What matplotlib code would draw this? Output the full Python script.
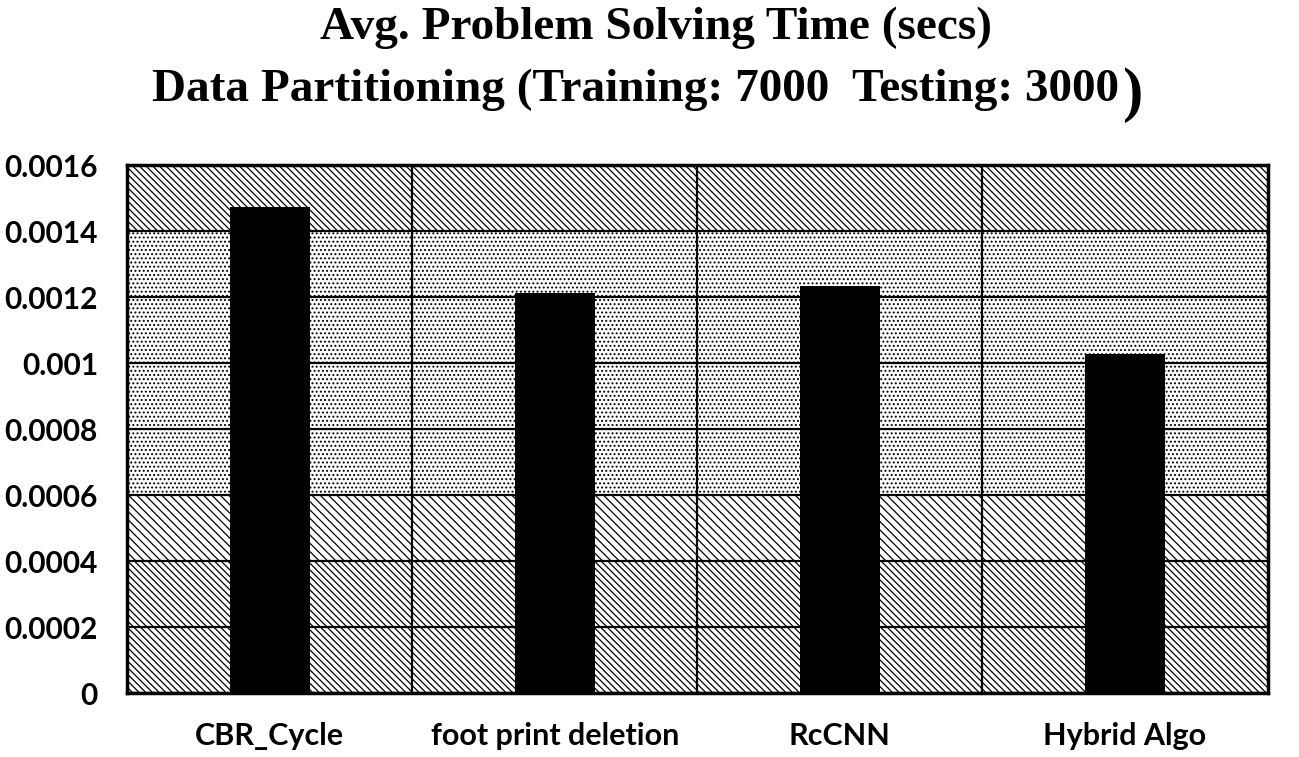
import matplotlib
matplotlib.use("Agg")
import matplotlib.pyplot as plt
import numpy as np

# data
categories = ["CBR_Cycle", "foot print deletion", "RcCNN", "Hybrid Algo"]
solve_time = [0.001473, 0.001212, 0.001233, 0.001027]
y_ticks = [0, 0.0002, 0.0004, 0.0006, 0.0008, 0.001, 0.0012, 0.0014, 0.0016]
y_tick_labels = ["0", "0.0002", "0.0004", "0.0006", "0.0008", "0.001", "0.0012", "0.0014", "0.0016"]
title_line1 = "Avg. Problem Solving Time (secs)"
title_line2 = "Data Partitioning (Training: 7000  Testing: 3000"

plt.rcParams['hatch.linewidth'] = 0.9
plt.rcParams['font.family'] = ['Lato', 'DejaVu Sans']

fig = plt.figure(figsize=(12.99, 7.57), dpi=100)
ax = fig.add_axes([0.0978, 0.0845, 0.878, 0.6975])

# patterned background bands (bottom to top)
band_hatch = ['\\\\\\\\\\', '\\\\\\\\\\', '\\\\\\\\', '....', '....', '....', '....', '\\\\\\\\\\']
for i in range(len(y_ticks) - 1):
    ax.axhspan(y_ticks[i], y_ticks[i + 1], facecolor='white', edgecolor='black',
               hatch=band_hatch[i], linewidth=0, zorder=0)

for t in y_ticks:
    ax.axhline(t, color='black', lw=1.6, zorder=1)
x = np.arange(len(categories))
for b in x[:-1] + 0.5:
    ax.axvline(b, color='black', lw=1.6, zorder=1)

ax.bar(x, solve_time, width=0.28, color='black', zorder=2)

ax.set_xlim(-0.5, len(categories) - 0.5)
ax.set_ylim(0, 0.0016)
ax.set_yticks(y_ticks)
ax.set_yticklabels(y_tick_labels, fontsize=21.5, fontweight='bold')
ax.set_xticks(x)
ax.set_xticklabels(categories, fontsize=22, fontweight='bold')
ax.tick_params(axis='y', length=0, pad=21)
ax.tick_params(axis='x', length=0, pad=21)
for s in ax.spines.values():
    s.set_linewidth(2.5)
    s.set_zorder(3)

fig.text(0.505, 0.963, title_line1, ha='center', va='center',
         family='Liberation Serif', fontweight='bold', fontsize=34)
t2 = fig.text(0.489, 0.881, title_line2, ha='center', va='center',
              family='Liberation Serif', fontweight='bold', fontsize=34)
fig.canvas.draw()
bb = t2.get_window_extent()
fig.text((bb.x1 + 3) / fig.bbox.width, 0.874, ")", ha='left', va='center',
         family='Liberation Serif', fontweight='bold', fontsize=44)

fig.savefig("out.png", dpi=100)
